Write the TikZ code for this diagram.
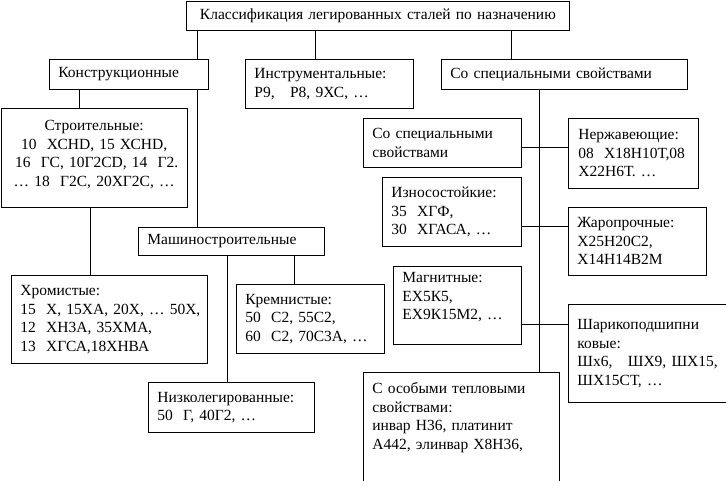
\documentclass[tikz,border=0pt]{standalone}
\usepackage{fontspec}
\setmainfont{Liberation Serif}
\tikzset{
  box/.style={draw, line width=0.8pt, anchor=north west, align=left,
    inner xsep=9pt, inner ysep=0pt, font=\fontsize{15.5}{18.5}\selectfont},
  link/.style={line width=0.8pt}
}
\begin{document}
\begin{tikzpicture}[x=1pt,y=-1pt]
  \useasboundingbox (0,0) rectangle (726,481);

  \node[box, align=center, text width=365, minimum height=29] (klass) at (186,1)
    {Классификация легированных сталей по назначению};

  \node[box, text width=141, minimum height=30] (konstr) at (49,59) {Конструкционные};
  \node[box, text width=150, minimum height=49] (instr) at (245,59)
    {Инструментальные:\\Р9,~~~Р8, 9ХС, …};
  \node[box, text width=228, minimum height=30] (spec) at (441,59) {Со специальными свойствами};

  %% konstrukcionnye
  \node[box, align=center, text width=168.5, minimum height=99] (stroit) at (0.5,108)
    {Строительные:\\10~~ХСНD, 15~ХСНD,\\~16~~ГС, 10Г2СD, 14~~Г2.\\…~18~~Г2С, 20ХГ2С, …\\[-9pt]\mbox{}};
  \node[box, text width=168, minimum height=28] (mash) at (138,227) {Машиностроительные};
  \node[box, text width=178, minimum height=88] (chrom) at (11,275)
    {Хромистые:\\\mbox{15~~Х, 15ХА, 20Х, … 50Х,}\\12~~ХН3А, 35ХМА,\\13~~ХГСА,18ХНВА};
  \node[box, text width=130, minimum height=69] (kremn) at (236,284)
    {Кремнистые:\\50~~С2, 55С2,\\\mbox{60~~С2, 70С3А, …}};
  \node[box, text width=148, minimum height=50] (nizko) at (148,382)
    {Низколегированные:\\50~~Г, 40Г2, …};

  %% special properties
  \node[box, text width=140, minimum height=49] (sub) at (363,118)
    {Со специальными\\свойствами};
  \node[box, text width=110, inner xsep=10pt, minimum height=70] (nerzh) at (568,118)
    {Нержавеющие:\\08~~Х18Н10Т,08\\Х22Н6Т. …};
  \node[box, text width=121, minimum height=69] (izn) at (382,177)
    {Износостойкие:\\35~~ХГФ,\\30~~ХГАСА, …};
  \node[box, text width=120, minimum height=68] (zharo) at (568,207)
    {Жаропрочные:\\Х25Н20С2,\\Х14Н14В2М};
  \node[box, text width=110, minimum height=78] (magn) at (393,266)
    {Магнитные:\\ЕХ5К5,\\ЕХ9К15М2, …\\\mbox{}};
  \node[box, text width=144, minimum height=98] (shar) at (568,304)
    {Шарикоподшипни\\ковые:\\Шх6,~~~ШХ9, ШХ15,\\ШХ15СТ, …};
  \node[box, text width=178, minimum height=124] (osob) at (363,372)
    {С особыми тепловыми\\свойствами:\\инвар Н36, платинит\\А442, элинвар Х8Н36,\\\mbox{}\\\mbox{}};

  %% connectors
  \draw[link] ([xshift=11pt]klass.south west) -- ([xshift=11pt]klass.south west |- konstr.north);
  \draw[link] ([xshift=70pt]instr.north west |- klass.south) -- ([xshift=70pt]instr.north west);
  \draw[link] ([xshift=70pt]spec.north west |- klass.south) -- ([xshift=70pt]spec.north west);
  \draw[link] ([xshift=30pt]konstr.south west) -- ([xshift=30pt]konstr.south west |- stroit.north);
  \draw[link] ([xshift=-11pt]konstr.south east) -- ([xshift=-11pt]konstr.south east |- mash.north);
  \draw[link] ([xshift=89.5pt]stroit.south west) -- ([xshift=89.5pt]stroit.south west |- chrom.north);
  \draw[link] ([xshift=89pt]mash.south west) -- ([xshift=89pt]mash.south west |- nizko.north);
  \draw[link] ([xshift=156pt]mash.south west) -- ([xshift=156pt]mash.south west |- kremn.north);
  \draw[link] ([xshift=98pt]spec.south west) -- ([xshift=98pt]spec.south west |- osob.north);
  \draw[link] ([yshift=-4.5pt]sub.east) -- ([yshift=-4.5pt]sub.east -| nerzh.west);
  \draw[link] ([yshift=-14.5pt]izn.east) -- ([yshift=-14.5pt]izn.east -| zharo.west);
  \draw[link] ([yshift=-19pt]magn.east) -- ([yshift=-19pt]magn.east -| shar.west);
\end{tikzpicture}
\end{document}
